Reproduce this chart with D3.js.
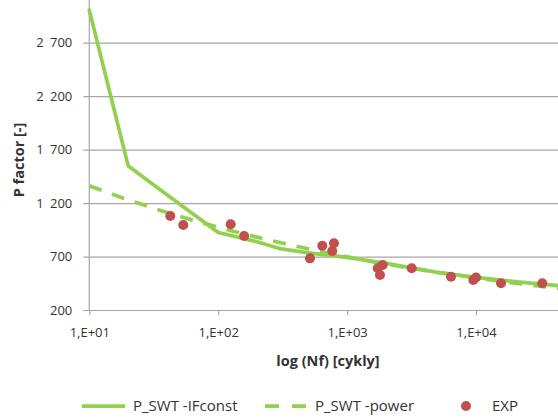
<!DOCTYPE html>
<html>
<head>
<meta charset="utf-8">
<script src="https://cdn.jsdelivr.net/npm/d3@7/dist/d3.min.js"></script>
<style>
  html, body { margin: 0; padding: 0; background: #fff; }
  svg { display: block; font-family: "Open Sans", Lato, sans-serif; }
</style>
</head>
<body>
<svg id="chart" width="558" height="419"></svg>
<script>
// P_SWT model with constant IF: cycles to failure and P factor
const ifconstN = [10, 20, 33, 100, 200, 300, 500, 1000, 2000, 5000, 10000, 20000, 44000];
const ifconstP = [3005, 1550, 1352, 925, 838, 775, 735, 692, 636, 552, 505, 466, 428];

// P_SWT power fit
const powerN = [10, 20, 50, 100, 200, 500, 1000, 2000, 5000, 10000, 20000, 44000];
const powerP = [1361, 1231, 1077, 974, 881, 772, 698, 631, 553, 500, 452, 403];

// experimental points
const expN = [42.5, 53.6, 125, 159, 515, 642, 791, 767, 1727, 1888, 1799, 3170, 6398, 9528, 10000, 15640, 32660];
const expP = [1079, 995, 1002, 892, 683, 801, 824, 752, 590, 621, 527, 590, 511, 481, 504, 450, 450];

const xTicks = [10, 100, 1000, 10000];
const xTickLabels = ["1,E+01", "1,E+02", "1,E+03", "1,E+04"];
const yTicks = [200, 700, 1200, 1700, 2200, 2700];
const yTickLabels = ["200", "700", "1 200", "1 700", "2 200", "2 700"];

const seriesNames = ["P_SWT -IFconst", "P_SWT -power", "EXP"];

const green = "#92d050";
const red = "#c0504d";
const gridColor = "#a6a6a6";
const textColor = "#333333";

const svg = d3.select("#chart");

const plotLeft = 89.3, plotBottom = 310;
const x = d3.scaleLog().domain([10, 100000]).range([plotLeft, plotLeft + 4 * 128.9]);
const y = d3.scaleLinear().domain([200, 3200]).range([plotBottom, plotBottom - 6 * 53.46]);
const plotRight = x.range()[1];
const plotTop = y.range()[1];

// horizontal gridlines (with the short outer tick)
const grid = svg.append("g").attr("transform", `translate(${plotLeft - 6},0)`)
  .call(d3.axisRight(y).tickValues(yTicks).tickSize(plotRight - plotLeft + 6).tickFormat(""));
grid.select(".domain").remove();
grid.selectAll("line").attr("stroke", gridColor).attr("stroke-width", 1.2);

// y axis labels
const yAxis = svg.append("g").attr("transform", `translate(${plotLeft},0)`)
  .call(d3.axisLeft(y).tickValues(yTicks).tickSize(0).tickPadding(17)
    .tickFormat((d, i) => yTickLabels[i]));
yAxis.select(".domain").remove();
yAxis.selectAll("text").attr("font-size", 13).attr("fill", textColor)
  .attr("font-family", "'Open Sans', sans-serif").style("word-spacing", "3px");

// vertical axis line
svg.append("line").attr("x1", plotLeft).attr("x2", plotLeft)
  .attr("y1", plotBottom).attr("y2", plotTop)
  .attr("stroke", gridColor).attr("stroke-width", 1.2);

// x axis ticks and labels
const xAxis = svg.append("g").attr("transform", `translate(0,${plotBottom})`)
  .call(d3.axisBottom(x).tickValues(xTicks).tickSize(5).tickPadding(13)
    .tickFormat((d, i) => xTickLabels[i]));
xAxis.select(".domain").remove();
xAxis.selectAll("line").attr("stroke", gridColor).attr("stroke-width", 1.2);
xAxis.selectAll("text").attr("font-size", 13).attr("fill", textColor)
  .attr("font-family", "'Open Sans', sans-serif");

// axis titles
svg.append("text")
  .attr("transform", "translate(19,160) rotate(-90)")
  .attr("text-anchor", "middle").attr("dy", "0.35em")
  .attr("font-size", 14.5).attr("font-weight", "bold").attr("fill", textColor)
  .text("P factor [-]");
svg.append("text")
  .attr("x", 328).attr("y", 361).attr("dy", "0.35em")
  .attr("text-anchor", "middle")
  .attr("font-size", 14.5).attr("font-weight", "bold").attr("fill", textColor)
  .text("log (Nf) [cykly]");

// series
const line = d3.line().x(d => x(d[0])).y(d => y(d[1]));
const smooth = d3.line().x(d => x(d[0])).y(d => y(d[1])).curve(d3.curveMonotoneX);

svg.append("path")
  .datum(powerN.map((n, i) => [n, powerP[i]]))
  .attr("d", smooth).attr("fill", "none")
  .attr("stroke", green).attr("stroke-width", 3.75)
  .attr("stroke-dasharray", "13,11");

svg.append("path")
  .datum(ifconstN.map((n, i) => [n, ifconstP[i]]))
  .attr("d", line).attr("fill", "none")
  .attr("stroke", green).attr("stroke-width", 3.75)
  .attr("stroke-linejoin", "round").attr("stroke-linecap", "round");

svg.append("g").selectAll("circle")
  .data(expN.map((n, i) => [n, expP[i]]))
  .join("circle")
  .attr("cx", d => x(d[0])).attr("cy", d => y(d[1])).attr("r", 5)
  .attr("fill", red);

// legend
const legY = 406;
const leg = svg.append("g").attr("font-size", 15).attr("fill", textColor);
leg.append("line").attr("x1", 82).attr("x2", 125).attr("y1", legY).attr("y2", legY)
  .attr("stroke", green).attr("stroke-width", 3.75);
leg.append("text").attr("x", 133).attr("y", legY).attr("dy", "0.35em").text(seriesNames[0]);
leg.append("line").attr("x1", 265).attr("x2", 307).attr("y1", legY).attr("y2", legY)
  .attr("stroke", green).attr("stroke-width", 3.75).attr("stroke-dasharray", "14,13");
leg.append("text").attr("x", 315).attr("y", legY).attr("dy", "0.35em").text(seriesNames[1]);
leg.append("circle").attr("cx", 466).attr("cy", legY).attr("r", 5).attr("fill", red);
leg.append("text").attr("x", 492).attr("y", legY).attr("dy", "0.35em").text(seriesNames[2]);
</script>
</body>
</html>
